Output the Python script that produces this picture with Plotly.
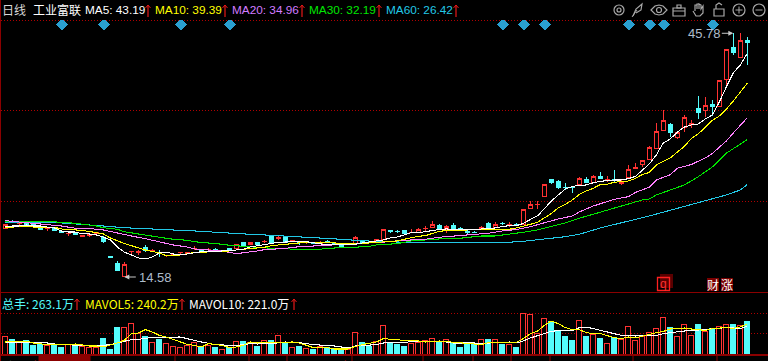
import plotly.graph_objects as go

W, H = 768, 361
candle_x = list(range(107))
opens = [20.73,21.69,21.46,21.37,21.30,20.77,20.77,20.73,20.40,20.09,20.34,19.82,19.95,20.20,19.58,17.18,16.25,14.62,17.82,17.77,
18.38,17.92,17.78,17.30,17.42,17.67,17.63,18.24,17.94,18.06,18.14,17.93,18.17,18.26,19.06,18.68,18.94,19.12,19.87,19.54,
19.58,19.16,19.06,19.00,18.94,18.88,19.10,18.85,18.77,18.70,18.90,19.28,19.06,19.03,19.32,20.48,20.46,20.47,20.30,20.34,
20.78,20.89,21.20,20.77,21.11,20.84,20.40,20.34,20.69,21.37,20.98,21.46,21.30,21.26,21.24,23.33,23.80,24.86,27.00,26.87,
26.10,26.10,26.36,27.00,26.71,27.51,27.05,27.08,26.58,27.26,28.46,28.96,29.56,30.97,33.31,34.04,32.38,33.66,34.15,36.18,
35.87,36.64,36.47,39.89,43.99,42.65,44.92]
highs = [21.37,21.82,21.62,21.50,21.43,20.80,20.86,20.86,20.47,20.38,20.40,19.92,20.05,20.34,19.83,17.20,16.63,16.50,17.89,18.04,
18.68,18.17,18.04,17.40,17.52,17.78,17.80,18.51,18.00,18.26,18.30,18.00,18.20,18.86,19.06,19.06,18.94,19.36,19.87,19.87,
19.58,19.32,19.10,19.06,18.96,19.19,19.36,18.88,18.77,18.76,19.83,19.28,19.10,19.45,20.73,20.50,20.64,20.47,20.69,20.82,
21.11,21.75,21.37,21.24,21.46,20.98,20.56,20.47,21.11,21.62,21.62,21.62,21.59,21.50,23.25,24.27,24.27,26.36,27.13,27.00,
26.58,26.23,27.42,27.34,27.64,28.02,27.51,28.28,27.00,28.92,29.14,29.52,31.35,34.33,35.96,34.33,33.02,35.28,34.68,37.75,
37.59,37.24,39.76,43.73,45.78,45.78,45.27]
lows = [20.73,21.43,21.24,21.11,21.05,20.60,20.47,20.47,20.22,19.83,19.96,19.64,19.73,19.96,18.94,17.08,15.35,14.58,17.49,17.40,
17.78,17.78,17.14,17.20,17.30,17.52,17.50,18.00,17.80,17.95,17.95,17.85,17.95,18.26,18.51,18.68,18.68,18.94,19.06,19.32,
19.03,19.10,18.68,18.80,18.84,18.80,19.00,18.68,18.42,18.66,18.90,18.94,18.96,19.03,19.32,20.22,20.18,20.13,20.25,20.34,
20.51,20.89,20.69,20.25,20.77,20.69,19.96,20.22,20.69,20.98,20.86,21.24,21.02,21.11,21.24,23.33,23.29,24.86,26.53,25.88,
25.72,25.34,26.36,26.58,26.71,27.13,26.74,26.78,26.40,27.26,28.44,28.70,29.56,30.97,33.31,32.54,32.25,33.18,33.62,34.81,
35.10,35.23,36.47,39.07,43.04,42.65,41.76]
closes = [21.24,21.56,21.50,21.11,21.11,20.67,20.80,20.47,20.30,20.12,19.96,19.86,19.98,20.22,19.10,17.12,15.35,16.21,17.85,17.80,
17.95,17.95,17.66,17.33,17.44,17.70,17.66,18.26,17.88,18.08,18.06,17.95,17.95,18.77,18.51,19.06,18.68,19.15,19.06,19.58,
19.03,19.19,18.98,19.03,18.85,18.90,19.06,18.68,18.42,18.74,19.66,18.94,19.00,19.41,20.60,20.40,20.42,20.13,20.33,20.60,
20.82,21.24,20.69,21.02,20.77,20.76,20.32,20.28,20.95,20.98,21.33,21.40,21.33,21.20,23.25,23.80,23.84,26.36,26.62,26.10,
26.02,26.02,27.22,26.74,27.47,27.13,27.09,27.00,26.62,28.37,28.54,29.52,31.22,33.23,34.64,33.05,33.02,35.03,34.17,35.70,
36.56,36.38,39.76,43.73,43.29,44.88,44.57]
ma5 = [20.98,21.11,21.11,21.24,21.11,21.11,20.98,20.86,20.47,20.34,20.34,20.09,20.09,19.96,19.70,19.32,18.42,17.78,17.40,17.02,
16.89,17.14,17.66,17.78,17.53,17.40,17.53,17.66,17.82,17.82,17.91,17.91,17.95,18.04,18.13,18.42,18.59,18.68,18.94,19.03,
19.06,19.10,19.10,19.10,18.97,18.85,18.68,18.68,18.68,18.77,18.77,18.94,19.03,19.19,19.32,19.58,19.70,19.96,20.25,20.25,
20.41,20.51,20.66,20.73,20.66,20.64,20.60,20.66,20.73,20.79,20.86,21.05,21.15,21.15,21.43,21.94,22.39,23.29,24.31,25.08,
25.85,26.17,26.32,26.36,26.65,26.83,26.96,27.00,27.00,27.17,27.45,28.28,29.05,30.20,31.74,32.25,33.14,33.78,34.04,34.17,
34.81,35.32,36.98,38.90,40.70,41.72,43.19]
ma10 = [20.95,20.95,21.11,21.11,20.98,20.95,20.95,20.95,20.73,20.66,20.66,20.54,20.41,20.25,20.09,19.58,19.19,18.87,18.59,18.30,
18.04,17.85,17.66,17.31,17.27,17.40,17.53,17.72,17.75,17.78,17.82,17.85,17.91,18.04,18.13,18.23,18.30,18.39,18.59,18.68,
18.77,18.87,19.00,19.03,19.03,18.97,18.97,18.94,18.90,18.87,18.87,18.85,18.94,18.94,19.09,19.13,19.19,19.41,19.61,19.79,
19.87,20.15,20.43,20.51,20.60,20.60,20.60,20.60,20.60,20.66,20.69,20.69,20.69,20.86,21.11,21.28,21.56,22.14,22.71,23.42,
23.86,24.44,25.14,25.59,25.94,26.42,26.45,26.71,26.78,26.87,27.19,27.70,27.96,28.92,29.37,29.82,30.58,31.29,32.31,32.89,
33.78,34.62,35.19,36.05,37.11,38.26,39.39]
ma20_x = [0,4,6,8,10,12,14,16,18,20,22,24,26,27,28,31,33,35,36,37,38,40,41,43,45,47,49,51,53,55,56,58,60,62,64,66,69,71,73,75,77,79,81,82,84,87,89,90,92,93,95,96,98,100,101,103,104,106]
ma20 = [21.79,21.46,21.33,21.11,20.82,20.79,20.60,20.18,19.83,19.49,19.10,18.68,18.42,18.17,18.10,17.91,17.57,17.75,17.91,18.08,18.13,18.23,18.39,18.49,18.62,18.68,18.74,18.85,18.97,19.10,19.23,19.32,19.41,19.67,19.79,19.96,20.18,20.47,20.66,21.02,21.50,22.01,22.39,22.90,23.67,24.53,24.86,25.40,26.07,27.00,27.68,28.50,28.98,29.82,30.39,31.99,33.02,34.96]
ma30_x = [0,5,8,10,13,14,16,17,19,21,22,24,26,27,28,30,31,32,34,36,38,40,41,45,46,50,52,53,55,56,58,60,62,64,66,68,70,72,74,76,78,80,82,91,92,93,95,97,99,101,103,106]
ma30 = [21.71,21.71,21.59,21.46,21.11,20.89,20.69,20.38,20.09,19.87,19.67,19.41,19.28,19.10,19.03,18.90,18.77,18.64,18.51,18.33,18.26,18.23,18.13,18.13,18.26,18.39,18.51,18.68,18.77,18.85,19.19,19.32,19.45,19.45,19.67,19.83,19.83,20.05,20.31,20.60,21.02,21.50,22.10,24.44,24.57,25.08,25.72,26.36,27.42,28.66,30.42,32.19]
ma60_x = [0,5,8,11,14,17,19,23,26,28,30,32,35,38,41,44,46,48,50,54,58,72,74,76,78,80,82,85,92,99,101,103,105,106]
ma60 = [21.62,21.62,21.50,21.33,21.11,20.89,20.82,20.69,20.56,20.43,20.31,20.18,20.05,19.92,19.79,19.66,19.54,19.41,19.28,19.09,19.03,19.03,19.15,19.32,19.51,19.74,20.05,20.86,22.39,24.06,24.53,25.08,25.72,26.42]
volume = [141,117,96,109,69,80,69,75,53,75,69,61,56,51,125,37,213,213,243,163,
141,91,117,88,61,56,69,96,56,69,53,37,51,99,101,96,61,107,109,147,
91,53,64,43,37,59,51,40,40,35,171,91,61,104,227,96,77,61,83,96,
107,123,104,115,88,53,80,80,115,117,115,77,75,53,323,315,163,283,261,181,
141,109,267,141,155,125,83,136,115,219,107,144,171,203,291,213,139,235,147,237,
181,203,221,235,237,227,263]
mavol5_x = [0,2,3,4,6,8,9,10,12,13,14,15,16,17,18,19,20,21,22,23,24,25,26,27,28,29,30,31,32,33,34,35,36,38,40,41,42,43,44,46,47,49,50,51,52,53,54,55,57,59,60,62,64,66,68,69,71,72,73,74,75,76,77,78,79,80,81,82,83,84,85,86,87,88,89,90,91,92,93,94,95,96,97,98,99,100,101,102,103,104,105,106]
mavol5 = [96,104,104,88,75,75,80,80,64,64,56,69,88,109,163,168,195,176,149,136,115,96,77,69,56,83,77,69,51,56,69,96,88,91,96,96,88,69,51,51,40,40,61,75,83,96,123,117,109,104,96,104,96,83,75,91,96,93,93,123,163,181,229,264,243,211,195,195,171,163,163,147,131,123,136,128,144,157,171,181,200,203,208,200,195,189,203,208,211,205,216,240]
mavol10_x = [0,2,4,6,7,9,10,14,15,16,17,18,19,20,21,25,26,27,28,29,30,33,35,36,38,40,42,44,46,47,48,49,50,52,53,54,57,58,60,62,64,67,68,70,72,73,74,75,76,77,78,79,81,82,83,84,85,86,87,88,90,92,93,94,95,96,97,98,100,101,103,104,105,106]
mavol10 = [96,96,91,88,80,75,69,69,75,88,104,115,117,128,133,136,120,109,96,88,75,67,83,80,83,96,91,75,69,64,56,48,64,69,75,88,91,101,96,104,88,88,83,91,96,88,104,128,147,168,181,187,187,211,216,203,189,173,163,149,144,147,149,163,171,176,184,187,195,197,211,208,203,221]
event_x = [8.14,14.14,25.14,32.14,71.14,74.14,77.14,89.14,92.14,94.14,101.14]
event_y = [46.9]*len(event_x)
PRICE_HIGH_I, PRICE_HIGH = 104, 45.78
PRICE_LOW_I, PRICE_LOW = 17, 14.58
tabs = ["视图","成交量","月周期成交量","分钟成交量","分析","资金分析","资金流分析","换手率","大盘","比价","多空指标","其他","主题库"]
tab_cx = [20,65,132,210,268,317,388,448,492,530,590,675,742]
tab_div = [39,90,175,249,287,352,423,473,511,550,633,717]

RED = "#ff3232"; CYAN = "#54fcfc"; DARK = "#8b0000"
PINK = "#ff80ff"; GREEN = "#00e600"; BLUE = "#22c8e6"; YEL = "#ffff00"
MONO = "Liberation Sans, Arial, sans-serif"
CJK = "Noto Sans CJK SC, sans-serif"
LW = 1.05

def px(x): return x / W
def py(y): return 1 - y / H

fig = go.Figure()
colors = [RED if c >= o else CYAN for o, c in zip(opens, closes)]
fills = ["#000000" if c >= o else CYAN for o, c in zip(opens, closes)]
fig.add_trace(go.Bar(x=candle_x, y=volume, width=0.7, xaxis="x2", yaxis="y2",
                     marker=dict(color=fills, line=dict(color=colors, width=1)), hoverinfo="skip"))
fig.add_trace(go.Scatter(x=mavol10_x, y=mavol10, xaxis="x2", yaxis="y2", mode="lines",
                         line=dict(color="#ffffff", width=LW), hoverinfo="skip"))
fig.add_trace(go.Scatter(x=mavol5_x, y=mavol5, xaxis="x2", yaxis="y2", mode="lines",
                         line=dict(color=YEL, width=LW), hoverinfo="skip"))
fig.add_trace(go.Candlestick(x=candle_x, open=opens, high=highs, low=lows, close=closes,
    whiskerwidth=0, hoverinfo="skip",
    increasing=dict(line=dict(color=RED, width=1), fillcolor="#000000"),
    decreasing=dict(line=dict(color=CYAN, width=1), fillcolor=CYAN)))
for xs, ys, c in [(ma60_x, ma60, BLUE), (ma30_x, ma30, GREEN), (ma20_x, ma20, PINK),
                  (candle_x, ma10, YEL), (candle_x, ma5, "#ffffff")]:
    fig.add_trace(go.Scatter(x=xs, y=ys, mode="lines", line=dict(color=c, width=LW), hoverinfo="skip"))
fig.add_trace(go.Scatter(x=event_x, y=event_y, mode="markers", hoverinfo="skip",
                         marker=dict(symbol="diamond", size=9, color="#2a9fd0", line=dict(width=0))))

xr = [-5.3 / 7, (W - 5.3) / 7]
noax = dict(showgrid=False, zeroline=False, showticklabels=False, ticks="", showline=False, fixedrange=True)
fig.update_layout(
    width=W, height=H, autosize=False, margin=dict(l=0, r=0, t=0, b=0),
    paper_bgcolor="#000000", plot_bgcolor="rgba(0,0,0,0)", showlegend=False,
    boxgap=0.3, bargap=0.3,
    xaxis=dict(domain=[0, 1], range=xr, visible=False, rangeslider=dict(visible=False), anchor="y", fixedrange=True),
    xaxis2=dict(domain=[0, 1], range=xr, visible=False, anchor="y2", fixedrange=True),
    yaxis=dict(domain=[py(292), py(20)], range=[12.66, 47.48], anchor="x", **noax),
    yaxis2=dict(domain=[py(354), py(292)], range=[0, 496], anchor="x2", **noax),
)

def text(x, y, s, color, size=12, font=MONO, anchor="left", vanchor="middle"):
    fig.add_annotation(xref="paper", yref="paper", x=px(x), y=py(y), text=s, showarrow=False,
                       xanchor=anchor, yanchor=vanchor, borderpad=0, borderwidth=0,
                       font=dict(color=color, size=size, family=font))

def shape(**kw):
    fig.add_shape(xref="paper", yref="paper", layer=kw.pop("layer", "above"), **kw)

def line(x0, y0, x1, y1, color, w=1):
    shape(type="line", x0=px(x0), y0=py(y0), x1=px(x1), y1=py(y1), line=dict(color=color, width=w))

def rect(x0, y0, x1, y1, fill="rgba(0,0,0,0)", color=None, w=1):
    shape(type="rect", x0=px(x0), y0=py(y0), x1=px(x1), y1=py(y1), fillcolor=fill,
          line=dict(color=color or "rgba(0,0,0,0)", width=w if color else 0))

def circle(cx, cy, rx, ry, color, w=1.2):
    shape(type="circle", x0=px(cx - rx), y0=py(cy - ry), x1=px(cx + rx), y1=py(cy + ry),
          line=dict(color=color, width=w))

def poly(pts, color, w=1.2, close=False):
    d = "M" + " L".join(f"{px(a):.5f},{py(b):.5f}" for a, b in pts) + (" Z" if close else "")
    shape(type="path", path=d, line=dict(color=color, width=w))

def up_arrow(x, y0, y1):
    line(x, y0, x, y1, "#e81818", 1.2)
    poly([(x - 2.5, y0 + 3), (x, y0), (x + 2.5, y0 + 3)], "#e81818", 1)

# dotted guide rows, under the marks
for gy in [20.5, 110.5, 201.5, 313.5, 333.5]:
    shape(type="line", x0=px(1), y0=py(gy), x1=1, y1=py(gy), layer="below",
          line=dict(color="#b00000", width=1, dash="1px,2px"))

# frame lines
rect(0, 0, 1, H, fill=DARK)
rect(0, 292, W, 293, fill=DARK)
rect(0, 354, W, 356, fill=DARK)

# header row
text(2, 10, "日线", "#d8d8d8", 12, CJK)
text(33, 10, "工业富联", "#ffffff", 12, CJK)
for x, s, c, ax in [(85, "MA5: 43.19", "#ffffff", 148), (155, "MA10: 39.39", YEL, 225),
                    (232, "MA20: 34.96", "#d27cff", 302), (309, "MA30: 32.19", "#00e600", 379),
                    (386, "MA60: 26.42", BLUE, 456)]:
    text(x, 10, s, c, 11.8)
    up_arrow(ax, 5, 17)

# volume header
text(2, 303, "总手: 263.1万", CYAN, 12, CJK)
up_arrow(77, 299, 310)
text(85, 303, "MAVOL5: 240.2万", YEL, 12, CJK)
up_arrow(182, 299, 310)
text(189, 303, "MAVOL10: 221.0万", "#ffffff", 12, CJK)
up_arrow(294, 299, 310)

# high / low labels
GREY = "#aebccb"
text(688, 33, "45.78", GREY, 13)
text(139, 277, "14.58", GREY, 13)
fig.add_annotation(x=PRICE_HIGH_I, y=PRICE_HIGH, xref="x", yref="y", ax=-13, ay=0, text="", showarrow=True,
                   arrowcolor="#c8c8c8", arrowwidth=1, arrowhead=2, arrowsize=1)
fig.add_annotation(x=PRICE_LOW_I, y=PRICE_LOW, xref="x", yref="y", ax=13, ay=0, text="", showarrow=True,
                   arrowcolor="#c8c8c8", arrowwidth=1, arrowhead=2, arrowsize=1)

# toolbar icons
IC = "#a8a8a8"
circle(619, 10, 5, 5, IC); circle(619, 10, 2, 2, IC)
poly([(633, 16), (636, 9), (642, 4), (641, 10), (636, 13)], IC); line(632, 17, 637, 10, IC)
poly([(651, 10), (655, 6), (659, 5), (663, 6), (667, 10), (663, 14), (659, 15), (655, 14)], IC, close=True)
circle(659, 10, 2.5, 2.5, IC)
rect(673, 8, 685, 16, color=IC, w=1.2); line(673, 11, 685, 11, IC); rect(677, 5, 681, 8, color=IC, w=1.2)
poly([(695, 11), (695, 5), (697, 5), (697, 9), (697, 4), (699, 4), (699, 9), (699, 4), (701, 5), (701, 9),
      (703, 6), (703, 13), (700, 16), (696, 16), (693, 11)], IC)
rect(714, 9, 724, 16, color=IC, w=1.2); poly([(716, 9), (716, 5), (719, 3), (722, 5)], IC)
circle(739, 10, 6, 6, IC); line(735.5, 10, 742.5, 10, IC); line(739, 6.5, 739, 13.5, IC)
circle(759, 10, 6, 6, IC); line(755.5, 10, 762.5, 10, IC)

# finance badges
rect(660, 274, 673, 288, fill="#5a0000")
rect(657.5, 277.5, 669.5, 290.5, fill="rgba(0,0,0,0)", color="#ff2020", w=1.3)
text(663.5, 284, "q", "#ff3030", 12, MONO, anchor="center")
rect(707, 278, 719, 291, fill="#7a0000"); text(713, 284.5, "财", "#ffffff", 12, CJK, anchor="center")
rect(721, 278, 733, 291, fill="#7a0000"); text(727, 284.5, "涨", "#ffffff", 12, CJK, anchor="center")

# tab strip, almost entirely below the window
rect(39, 356, 90, H, fill=DARK)
for d in tab_div:
    line(d, 356, d, H, DARK)
for s, cx in zip(tabs, tab_cx):
    text(cx, 357.5, s, "#e8e8e8", 12, CJK, anchor="center", vanchor="top")
text(35, 357, "+", "#ff2020", 11, MONO, anchor="center", vanchor="top")
text(345, 357, "+", "#ff2020", 11, MONO, anchor="center", vanchor="top")

post = """
document.body.style.margin='0';document.body.style.background='#000';document.documentElement.style.overflow='hidden';
var st=document.createElement('style');st.textContent='.cartesianlayer path{shape-rendering:crispEdges}';document.head.appendChild(st);
"""
fig.write_html("out.html", config=dict(displayModeBar=False, staticPlot=True), post_script=post)
